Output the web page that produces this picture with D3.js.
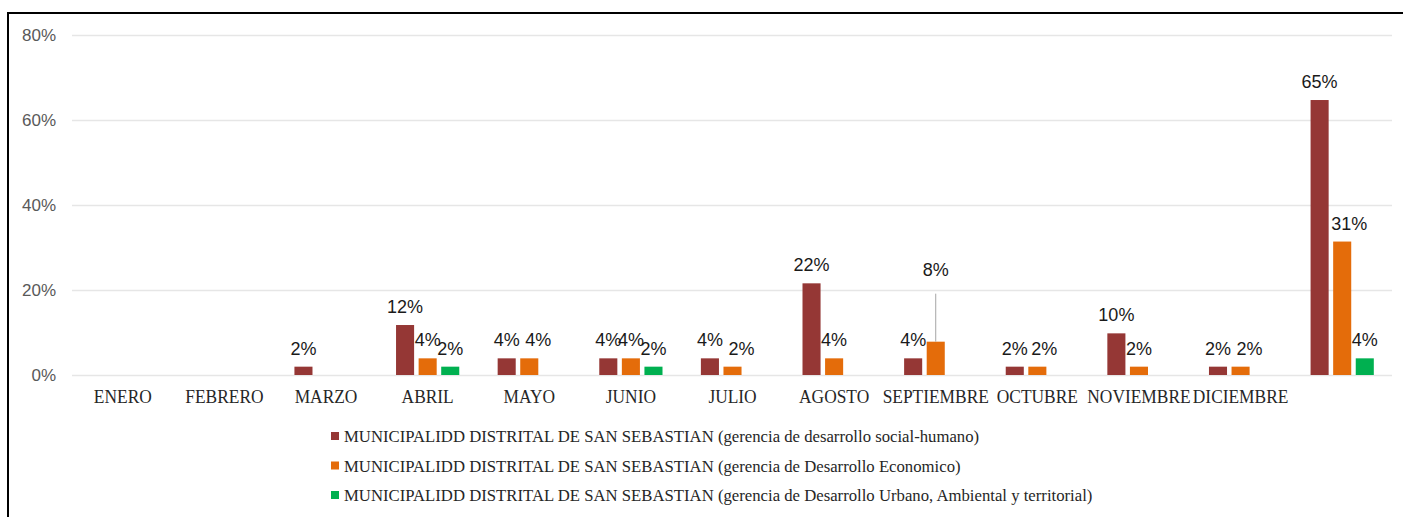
<!DOCTYPE html>
<html>
<head>
<meta charset="utf-8">
<script src="https://cdn.jsdelivr.net/npm/d3@7"></script>
<style>
  body { margin: 0; background: #fff; }
  svg { display: block; }
</style>
</head>
<body>
<svg id="chart" width="1403" height="517"></svg>
<script>
// categories (13th column = total, no label)
const categories = ['ENERO', 'FEBRERO', 'MARZO', 'ABRIL', 'MAYO', 'JUNIO', 'JULIO',
  'AGOSTO', 'SEPTIEMBRE', 'OCTUBRE', 'NOVIEMBRE', 'DICIEMBRE', ''];
const seriesNames = [
  'MUNICIPALIDD DISTRITAL DE SAN SEBASTIAN (gerencia de desarrollo social-humano)',
  'MUNICIPALIDD DISTRITAL DE SAN SEBASTIAN (gerencia de Desarrollo Economico)',
  'MUNICIPALIDD DISTRITAL DE SAN SEBASTIAN (gerencia de Desarrollo Urbano, Ambiental y territorial)',
];
// values in %
const socialHumano = [0, 0, 1.96, 11.76, 3.92, 3.92, 3.92, 21.57, 3.92, 1.96, 9.8, 1.96, 64.7];
const economico    = [0, 0, 0, 3.92, 3.92, 3.92, 1.96, 3.92, 7.84, 1.96, 1.96, 1.96, 31.4];
const urbano       = [0, 0, 0, 1.96, 0, 1.96, 0, 0, 0, 0, 0, 0, 3.92];
const yTicks = [0, 20, 40, 60, 80];

const colors = ['#953735', '#E46C0A', '#00B050'];
const series = [socialHumano, economico, urbano];

const svg = d3.select('#chart');
const mLeft = 72, mRight = 1393, mTop = 35, mBottom = 375;

const x0 = d3.scaleBand().domain(categories).range([mLeft, mRight]);
const x1 = d3.scaleBand().domain(d3.range(series.length))
  .range([0, x0.bandwidth()]).paddingInner(0.2).paddingOuter(0.85);
const y = d3.scaleLinear().domain([0, 80]).range([mBottom, mTop]);

// frame
svg.append('path')
  .attr('d', 'M8,517V13H1403')
  .attr('fill', 'none')
  .attr('stroke', '#000')
  .attr('stroke-width', 2);

// gridlines + y labels
const yAxis = svg.append('g')
  .attr('transform', 'translate(' + mLeft + ',0)')
  .call(d3.axisLeft(y).tickValues(yTicks).tickFormat(d => d + '%')
    .tickSize(-(mRight - mLeft - 1)).tickPadding(16));
yAxis.select('.domain').remove();
yAxis.selectAll('line').attr('stroke', '#e6e6e6').attr('stroke-width', 1.3);
yAxis.selectAll('text')
  .attr('fill', '#595959')
  .attr('font-family', 'Liberation Sans, Arial, sans-serif')
  .attr('font-size', 17);

// x labels
const xAxis = svg.append('g')
  .attr('transform', 'translate(0,' + mBottom + ')')
  .call(d3.axisBottom(x0).tickSize(0).tickPadding(15));
xAxis.select('.domain').remove();
xAxis.selectAll('text')
  .attr('fill', '#262626')
  .attr('font-family', 'Liberation Serif, Times New Roman, serif')
  .attr('font-size', 18.5)
  .attr('transform', 'scale(0.94,1)');

const cells = [];
series.forEach((vals, si) => vals.forEach((v, ci) => {
  if (v > 0) cells.push({ si, cat: categories[ci], v });
}));

// bars
svg.append('g').selectAll('rect')
  .data(cells)
  .join('rect')
  .attr('x', d => x0(d.cat) + x1(d.si))
  .attr('y', d => y(d.v))
  .attr('width', x1.bandwidth())
  .attr('height', d => y(0) - y(d.v))
  .attr('fill', d => colors[d.si]);

// data labels: a few orange labels were nudged right in the original,
// and the SEPTIEMBRE one was dragged up with a leader line
const nudgeOrange = { MAYO: 9, JULIO: 9, OCTUBRE: 7, DICIEMBRE: 9, '': 7 };
const moved = { cat: 'SEPTIEMBRE', si: 1, dy: 54 };
const isMoved = d => d.cat === moved.cat && d.si === moved.si;
const cx = d => x0(d.cat) + x1(d.si) + x1.bandwidth() / 2;

svg.append('g').selectAll('line')
  .data(cells.filter(isMoved))
  .join('line')
  .attr('x1', cx)
  .attr('x2', cx)
  .attr('y1', d => y(d.v))
  .attr('y2', d => y(d.v) - moved.dy + 6)
  .attr('stroke', '#a6a6a6')
  .attr('stroke-width', 1);

svg.append('g').selectAll('text')
  .data(cells)
  .join('text')
  .attr('x', d => cx(d) + (d.si === 1 ? (nudgeOrange[d.cat] || 0) : 0))
  .attr('y', d => y(d.v) - 12 - (isMoved(d) ? moved.dy : 0))
  .attr('text-anchor', 'middle')
  .attr('fill', '#1a1a1a')
  .attr('font-family', 'Liberation Sans, Arial, sans-serif')
  .attr('font-size', 18)
  .text(d => Math.round(d.v) + '%');

// legend
const legend = svg.append('g').attr('transform', 'translate(331,436)')
  .selectAll('g')
  .data(seriesNames)
  .join('g')
  .attr('transform', (d, i) => 'translate(0,' + i * 29.5 + ')');
legend.append('rect')
  .attr('x', 0).attr('y', -4)
  .attr('width', 8).attr('height', 8)
  .attr('fill', (d, i) => colors[i]);
legend.append('text')
  .attr('transform', 'translate(13,6) scale(0.955,1)')
  .attr('fill', '#262626')
  .attr('font-family', 'Liberation Serif, Times New Roman, serif')
  .attr('font-size', 17.5)
  .text(d => d);
</script>
</body>
</html>
